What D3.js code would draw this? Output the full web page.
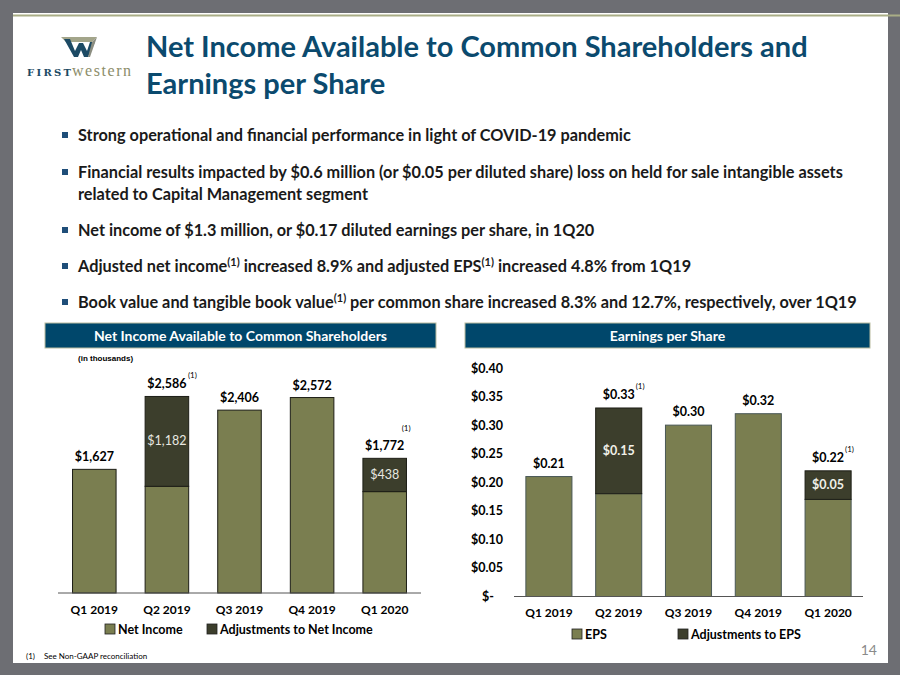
<!DOCTYPE html>
<html>
<head>
<meta charset="utf-8">
<script src="https://cdn.jsdelivr.net/npm/d3@7"></script>
<style>
  body { margin: 0; background: #6d6e73; }
  svg { display: block; font-family: Lato, "Open Sans", sans-serif; }
</style>
</head>
<body>
<div id="chart"></div>
<script>
// quarters shared by both charts
var quarters = ["Q1 2019", "Q2 2019", "Q3 2019", "Q4 2019", "Q1 2020"];

// net income (thousands)
var netIncome = [1627, 1404, 2406, 2572, 1334];
var netAdjust = [0, 1182, 0, 0, 438];
var netTotalLabels = ["$1,627", "$2,586", "$2,406", "$2,572", "$1,772"];
var netAdjLabels = ["", "$1,182", "", "", "$438"];

// EPS
var eps = [0.21, 0.18, 0.30, 0.32, 0.17];
var epsAdjust = [0, 0.15, 0, 0, 0.05];
var epsTotalLabels = ["$0.21", "$0.33", "$0.30", "$0.32", "$0.22"];
var epsAdjLabels = ["", "$0.15", "", "", "$0.05"];
var epsTicks = [0, 0.05, 0.10, 0.15, 0.20, 0.25, 0.30, 0.35, 0.40];

var footnoted = [false, true, false, false, true];

var bullets = [
  ["Strong operational and financial performance in light of COVID-19 pandemic"],
  ["Financial results impacted by $0.6 million (or $0.05 per diluted share) loss on held for sale intangible assets",
   "related to Capital Management segment"],
  ["Net income of $1.3 million, or $0.17 diluted earnings per share, in 1Q20"],
  ["Adjusted net income|(1)| increased 8.9% and adjusted EPS|(1)| increased 4.8% from 1Q19"],
  ["Book value and tangible book value|(1)| per common share increased 8.3% and 12.7%, respectively, over 1Q19"]
];

var olive = "#7a7e50", dark = "#3c3e2c", navy = "#00476b";

var w = 900, h = 675;
var svg = d3.select("#chart").append("svg").attr("width", w).attr("height", h);

// frame
svg.append("rect").attr("width", w).attr("height", h).attr("fill", "#6d6e73");
svg.append("rect").attr("x", 13).attr("y", 13).attr("width", 875).attr("height", 650).attr("fill", "#fff");
svg.append("line").attr("x1", 13).attr("x2", 900).attr("y1", 15.5).attr("y2", 15.5)
  .attr("stroke", "#a9ad86").attr("stroke-width", 2);

// logo
var logo = svg.append("g");
logo.append("path").attr("d", "M61,37 L97,37 L92,42 L66,42 Z").attr("fill", "#a3a58a");
logo.append("path").attr("d", "M64,39 L70,39 L75,51 L79,43 L83,43 L87,51 L90,42 L95,42 L88,57 L84,57 L81,50 L78,57 L74,57 Z")
  .attr("fill", "#1c4a64");
logo.append("path").attr("d", "M92,42 L97,37 L90,57 L88,57 Z").attr("fill", "#8b8d80");
logo.append("text").attr("x", 27).attr("y", 76).attr("font-family", "'DejaVu Serif', serif")
  .attr("font-size", 10).attr("fill", "#1c4a64").attr("font-weight", "bold")
  .attr("textLength", 44).text("FIRST");
logo.append("text").attr("x", 72).attr("y", 76).attr("font-family", "'Liberation Serif', serif")
  .attr("font-size", 16).attr("fill", "#8c8d6a").attr("textLength", 59).text("western");

// title
var title = svg.append("text").attr("x", 146).attr("font-size", 29).attr("font-weight", "bold")
  .attr("fill", "#0b4a6e");
title.append("tspan").attr("x", 146).attr("y", 57).text("Net Income Available to Common Shareholders and");
title.append("tspan").attr("x", 146).attr("y", 94).text("Earnings per Share");

// bullets
var by = [141, 178, 236, 272, 308];
bullets.forEach(function(lines, i) {
  svg.append("rect").attr("x", 62).attr("y", by[i] - 9).attr("width", 6).attr("height", 6).attr("fill", "#1f4e79");
  lines.forEach(function(line, j) {
    var t = svg.append("text").attr("x", 78).attr("y", by[i] + j * 22)
      .attr("font-size", 16.3).attr("font-weight", "bold").attr("fill", "#1a1a1a");
    line.split("|").forEach(function(part, k) {
      var sp = t.append("tspan").text(part);
      if (k % 2 == 1) sp.attr("font-size", 11).attr("dy", -6);
      else if (k > 0) sp.attr("dy", 6);
    });
  });
});

// section headers
function header(x, width, label) {
  svg.append("rect").attr("x", x).attr("y", 323).attr("width", width).attr("height", 25)
    .attr("fill", navy).attr("stroke", "#b9bca0").attr("stroke-width", 1);
  svg.append("text").attr("x", x + width / 2).attr("y", 340.5).attr("text-anchor", "middle")
    .attr("font-size", 14).attr("font-weight", "bold").attr("fill", "#fff").text(label);
}
header(45, 391, "Net Income Available to Common Shareholders");
header(465, 405, "Earnings per Share");

// ---------- left chart ----------
var x1 = d3.scaleBand().domain(quarters).range([58, 421]).paddingInner(0.4).paddingOuter(0.2);
var y1 = d3.scaleLinear().domain([0, 3000]).range([593, 365]);

svg.append("text").attr("x", 78).attr("y", 361).attr("font-size", 8).attr("font-weight", "bold")
  .attr("font-family", "'Liberation Sans', Arial").text("(in thousands)");

var left = svg.append("g");
left.selectAll(".ni").data(quarters).enter().append("rect")
  .attr("x", function(d) { return x1(d); })
  .attr("y", function(d, i) { return y1(netIncome[i]); })
  .attr("width", x1.bandwidth())
  .attr("height", function(d, i) { return y1(0) - y1(netIncome[i]); })
  .attr("fill", olive).attr("stroke", "#1d1e16").attr("stroke-width", 1);
left.selectAll(".adj").data(quarters).enter().append("rect")
  .filter(function(d, i) { return netAdjust[i] > 0; })
  .attr("x", function(d) { return x1(d); })
  .attr("y", function(d) { var i = quarters.indexOf(d); return y1(netIncome[i] + netAdjust[i]); })
  .attr("width", x1.bandwidth())
  .attr("height", function(d) { var i = quarters.indexOf(d); return y1(0) - y1(netAdjust[i]); })
  .attr("fill", dark).attr("stroke", "#1d1e16").attr("stroke-width", 1);

left.selectAll(".tl").data(quarters).enter().append("text")
  .attr("x", function(d) { return x1(d) + x1.bandwidth() / 2; })
  .attr("y", function(d, i) { return y1(netIncome[i] + netAdjust[i]) - 8; })
  .attr("text-anchor", "middle").attr("font-size", 12.5).attr("font-weight", "bold")
  .text(function(d, i) { return netTotalLabels[i]; });
left.selectAll(".al").data(quarters).enter().append("text")
  .attr("x", function(d) { return x1(d) + x1.bandwidth() / 2; })
  .attr("y", function(d, i) { return y1(netIncome[i] + netAdjust[i] / 2) + 4; })
  .attr("text-anchor", "middle").attr("font-size", 12.5).attr("fill", "#e8e8e0")
  .text(function(d, i) { return netAdjLabels[i]; });
left.selectAll(".fn").data(quarters).enter().append("text")
  .filter(function(d, i) { return footnoted[i]; })
  .attr("x", function(d) { return x1(d) + x1.bandwidth() / 2 + (d == "Q2 2019" ? 21 : 17); })
  .attr("y", function(d) { var i = quarters.indexOf(d); return y1(netIncome[i] + netAdjust[i]) - (i == 4 ? 27 : 18); })
  .attr("font-size", 8).text("(1)");

var xAxis1 = left.append("g").attr("transform", "translate(0,593)")
  .call(d3.axisBottom(x1).tickSize(0).tickPadding(12));
xAxis1.select(".domain").attr("stroke", "#555").attr("d", "M58,0H421");
xAxis1.selectAll("text").attr("font-size", 12).attr("font-weight", "bold").attr("fill", "#000")
  .attr("font-family", "Lato, sans-serif");

function legend(g, items, xs, y) {
  items.forEach(function(it, i) {
    g.append("rect").attr("x", xs[i]).attr("y", y - 8).attr("width", 10).attr("height", 10)
      .attr("fill", it[1]).attr("stroke", "#222").attr("stroke-width", 0.8);
    g.append("text").attr("x", xs[i] + 13).attr("y", y + 1.5).attr("font-size", 12.5)
      .attr("font-weight", "bold").text(it[0]);
  });
}
legend(left, [["Net Income", olive], ["Adjustments to Net Income", dark]], [105, 207], 632);

// ---------- right chart ----------
var x2 = d3.scaleBand().domain(quarters).range([514, 863]).paddingInner(0.34).paddingOuter(0.17);
var y2 = d3.scaleLinear().domain([0, 0.40]).range([596.5, 368]);

var right = svg.append("g");
right.selectAll(".eps").data(quarters).enter().append("rect")
  .attr("x", function(d) { return x2(d); })
  .attr("y", function(d, i) { return y2(eps[i]); })
  .attr("width", x2.bandwidth())
  .attr("height", function(d, i) { return y2(0) - y2(eps[i]); })
  .attr("fill", olive).attr("stroke", "#4a5856").attr("stroke-width", 1);
right.selectAll(".eadj").data(quarters).enter().append("rect")
  .filter(function(d, i) { return epsAdjust[i] > 0; })
  .attr("x", function(d) { return x2(d); })
  .attr("y", function(d) { var i = quarters.indexOf(d); return y2(eps[i] + epsAdjust[i]); })
  .attr("width", x2.bandwidth())
  .attr("height", function(d) { var i = quarters.indexOf(d); return y2(0) - y2(epsAdjust[i]); })
  .attr("fill", dark).attr("stroke", "#1d1e16").attr("stroke-width", 1);

right.selectAll(".tl").data(quarters).enter().append("text")
  .attr("x", function(d) { return x2(d) + x2.bandwidth() / 2; })
  .attr("y", function(d, i) { return y2(eps[i] + epsAdjust[i]) - 9; })
  .attr("text-anchor", "middle").attr("font-size", 12.5).attr("font-weight", "bold")
  .text(function(d, i) { return epsTotalLabels[i]; });
right.selectAll(".al").data(quarters).enter().append("text")
  .attr("x", function(d) { return x2(d) + x2.bandwidth() / 2; })
  .attr("y", function(d, i) { return y2(eps[i] + epsAdjust[i] / 2) + 4; })
  .attr("text-anchor", "middle").attr("font-size", 12.5).attr("font-weight", "bold").attr("fill", "#f0f0e8")
  .text(function(d, i) { return epsAdjLabels[i]; });
right.selectAll(".fn").data(quarters).enter().append("text")
  .filter(function(d, i) { return footnoted[i]; })
  .attr("x", function(d) { return x2(d) + x2.bandwidth() / 2 + 17; })
  .attr("y", function(d) { var i = quarters.indexOf(d); return y2(eps[i] + epsAdjust[i]) - 19; })
  .attr("font-size", 8).text("(1)");

var yAxis2 = right.append("g").attr("transform", "translate(503,0)")
  .call(d3.axisLeft(y2).tickValues(epsTicks).tickSize(0).tickPadding(0)
    .tickFormat(function(d) { return d == 0 ? "$-" : "$" + d.toFixed(2); }));
yAxis2.select(".domain").remove();
yAxis2.selectAll("text").attr("font-size", 12.5).attr("font-weight", "bold").attr("fill", "#000")
  .attr("font-family", "Lato, sans-serif");
yAxis2.selectAll(".tick").filter(function(d) { return d == 0; }).select("text").attr("dx", -9);

var xAxis2 = right.append("g").attr("transform", "translate(0,596.5)")
  .call(d3.axisBottom(x2).tickSize(0).tickPadding(12));
xAxis2.select(".domain").attr("stroke", "#555").attr("d", "M514,0H863");
xAxis2.selectAll("text").attr("font-size", 12).attr("font-weight", "bold").attr("fill", "#000")
  .attr("font-family", "Lato, sans-serif");

legend(right, [["EPS", olive], ["Adjustments to EPS", dark]], [572, 678], 637);

// page number and footnote
svg.append("text").attr("x", 877).attr("y", 655).attr("text-anchor", "end").attr("font-size", 14)
  .attr("fill", "#8a8a8a").text("14");
svg.append("text").attr("x", 26).attr("y", 659).attr("font-size", 8).text("(1)");
svg.append("text").attr("x", 44).attr("y", 659).attr("font-size", 8).text("See Non-GAAP reconciliation");
</script>
</body>
</html>
